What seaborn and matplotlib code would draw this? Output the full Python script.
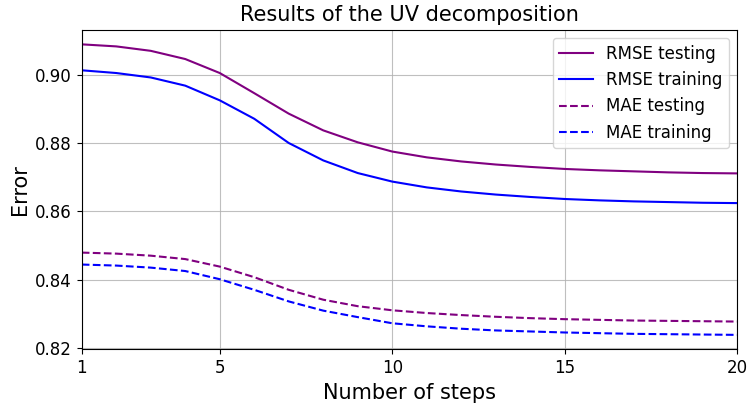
import matplotlib
matplotlib.use("Agg")
import matplotlib.pyplot as plt
import seaborn as sns
import pandas as pd

steps = list(range(1, 21))
rmse_testing = [0.9089, 0.9083, 0.9070, 0.9046, 0.9005, 0.8946, 0.8886, 0.8837, 0.8802, 0.8775,
                0.8758, 0.8746, 0.8737, 0.8730, 0.8724, 0.8720, 0.8717, 0.8714, 0.8712, 0.8711]
rmse_training = [0.9013, 0.9005, 0.8992, 0.8968, 0.8925, 0.8871, 0.8800, 0.8749, 0.8712, 0.8687,
                 0.8670, 0.8658, 0.8649, 0.8642, 0.8636, 0.8632, 0.8629, 0.8627, 0.8625, 0.8624]
mae_testing = [0.8479, 0.8476, 0.8470, 0.8460, 0.8438, 0.8407, 0.8370, 0.8341, 0.8322, 0.8310,
               0.8302, 0.8296, 0.8291, 0.8287, 0.8284, 0.8282, 0.8280, 0.8279, 0.8278, 0.8277]
mae_training = [0.8444, 0.8441, 0.8435, 0.8425, 0.8401, 0.8370, 0.8336, 0.8309, 0.8290, 0.8272,
                0.8263, 0.8256, 0.8251, 0.8248, 0.8245, 0.8243, 0.8241, 0.8240, 0.8239, 0.8238]

x_ticks = [1, 5, 10, 15, 20]
title = "Results of the UV decomposition"
x_label = "Number of steps"
y_label = "Error"

series = [
    ("RMSE testing", rmse_testing, "purple", "-"),
    ("RMSE training", rmse_training, "blue", "-"),
    ("MAE testing", mae_testing, "purple", "--"),
    ("MAE training", mae_training, "blue", "--"),
]

fig, ax = plt.subplots(figsize=(7.5, 4.03), dpi=100)
for name, vals, color, ls in series:
    df = pd.DataFrame({"step": steps, "err": vals})
    sns.lineplot(data=df, x="step", y="err", ax=ax, color=color, linestyle=ls,
                 label=name, linewidth=1.5)

ax.set_xlim(1, 20)
ax.set_xticks(x_ticks)
ax.grid(True, color="#b0b0b0", linewidth=0.8, alpha=0.8)
ax.set_axisbelow(True)
ax.tick_params(labelsize=12)
ax.set_title(title, fontsize=15)
ax.set_xlabel(x_label, fontsize=15)
ax.set_ylabel(y_label, fontsize=15)
ax.yaxis.set_major_formatter(matplotlib.ticker.FormatStrFormatter("%.2f"))
ax.legend(loc="upper right", fontsize=12)

fig.subplots_adjust(left=0.109, right=0.983, top=0.926, bottom=0.133)
fig.savefig("out.png", dpi=100)
